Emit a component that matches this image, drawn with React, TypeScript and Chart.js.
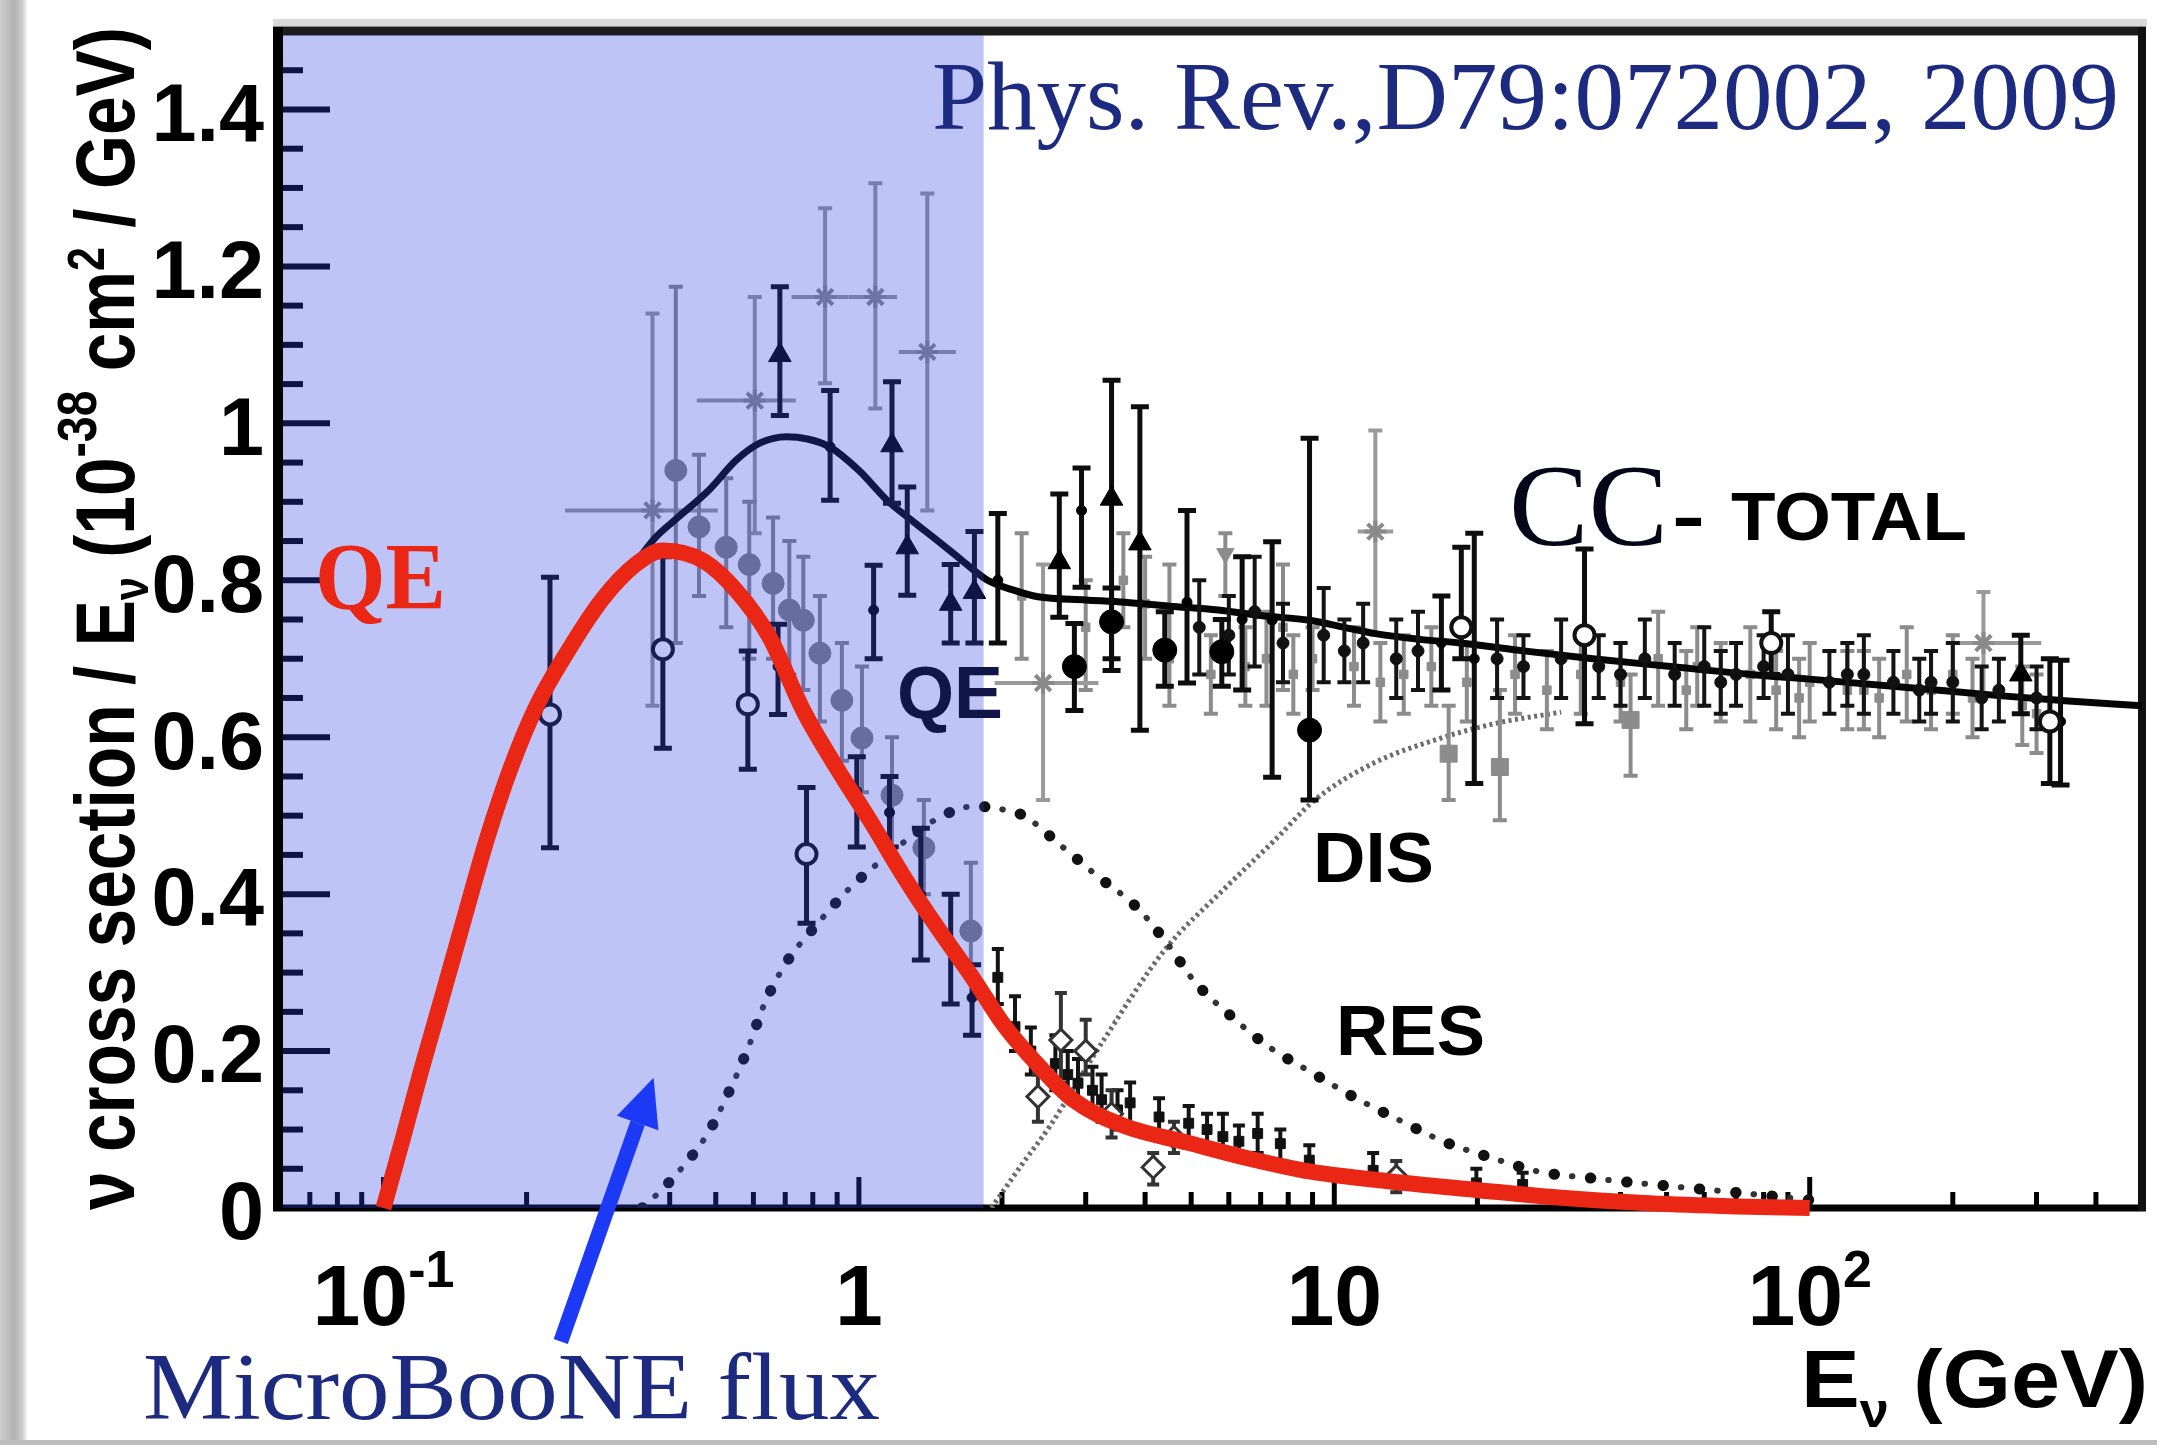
import React, { useEffect, useRef } from "react";
import { Chart, registerables } from "chart.js";
Chart.register(...registerables);

const W = 2157;
const H = 1445;

// ---------- axes ----------
const xMin = 0.06;
const xMax = 500;
const yMin = 0;
const yMax = 1.5;
const xTickValues = [0.1, 1, 10, 100];
const xTickBase = ["10", "1", "10", "10"];
const xTickExp = ["-1", "", "", "2"];
const yTickValues = [0, 0.2, 0.4, 0.6, 0.8, 1.0, 1.2, 1.4];
const yTickLabels = ["0", "0.2", "0.4", "0.6", "0.8", "1", "1.2", "1.4"];
const fluxEdgeE = 1.83; // MicroBooNE flux shaded region upper edge (GeV)

// ---------- model curves ----------
const qeCurveE = [0.1, 0.11, 0.12, 0.133, 0.148, 0.165, 0.185, 0.21, 0.245, 0.288, 0.339, 0.387, 0.47, 0.552, 0.648, 0.764, 0.9, 1.055, 1.25, 1.46, 1.75, 2.02, 2.4, 2.82, 3.6, 4.93, 6.5, 8.6, 13, 19.9, 30, 46, 70, 100];
const qeCurveV = [0, 0.09, 0.175, 0.27, 0.37, 0.47, 0.56, 0.64, 0.711, 0.775, 0.82, 0.838, 0.825, 0.787, 0.728, 0.634, 0.56, 0.494, 0.42, 0.358, 0.29, 0.233, 0.18, 0.138, 0.105, 0.083, 0.064, 0.048, 0.034, 0.023, 0.013, 0.006, 0.002, 0];

const totalCurveE = [0.1, 0.11, 0.12, 0.133, 0.148, 0.165, 0.185, 0.21, 0.245, 0.288, 0.339, 0.374, 0.418, 0.484, 0.552, 0.62, 0.705, 0.78, 0.868, 1.0, 1.146, 1.3, 1.46, 1.65, 1.865, 2.1, 2.38, 3.0, 3.63, 4.5, 5.7, 7, 8.87, 10.5, 12.2, 15, 18.4, 25, 35, 51, 75, 100, 156, 250, 350, 500];
const totalCurveV = [0, 0.09, 0.175, 0.27, 0.37, 0.47, 0.56, 0.64, 0.711, 0.775, 0.823, 0.855, 0.881, 0.915, 0.953, 0.975, 0.983, 0.98, 0.97, 0.94, 0.902, 0.875, 0.851, 0.825, 0.8, 0.788, 0.779, 0.775, 0.772, 0.767, 0.762, 0.755, 0.749, 0.74, 0.732, 0.725, 0.72, 0.71, 0.7, 0.69, 0.68, 0.674, 0.664, 0.653, 0.646, 0.64];

const resCurveE = [0.35, 0.38, 0.416, 0.481, 0.533, 0.584, 0.633, 0.704, 0.815, 0.951, 1.1, 1.3, 1.5, 1.75, 2.0, 2.22, 2.66, 3.19, 3.83, 4.48, 5.06, 6.08, 7.3, 9.0, 11.1, 13.7, 17.1, 21.4, 27.1, 34.8, 44.8, 57, 75, 100];
const resCurveV = [0, 0.02, 0.045, 0.095, 0.148, 0.203, 0.26, 0.313, 0.361, 0.406, 0.44, 0.475, 0.5, 0.512, 0.508, 0.5, 0.462, 0.422, 0.384, 0.335, 0.29, 0.244, 0.205, 0.172, 0.14, 0.112, 0.084, 0.064, 0.046, 0.038, 0.031, 0.025, 0.018, 0.01];

const disCurveE = [1.9, 2.2, 2.52, 3.24, 4.4, 5.83, 7.5, 9.1, 12.1, 16, 22, 30];
const disCurveV = [0, 0.055, 0.104, 0.21, 0.329, 0.405, 0.469, 0.52, 0.567, 0.595, 0.618, 0.632];

// ---------- data points: [E, value, errLow, errHigh, (Elow, Ehigh)] ----------
const grayCrossPts = [
  [0.368, 0.889, 0.64, 1.14, 0.241, 0.505],
  [0.604, 1.029, 0.86, 1.161, 0.456, 0.737],
  [0.849, 1.161, 1.051, 1.274, 0.722, 0.951],
  [1.083, 1.161, 1.019, 1.306, 0.951, 1.203],
  [1.393, 1.091, 0.889, 1.293, 1.213, 1.6],
  [2.44, 0.669, 0.52, 0.82, 1.93, 3.19],
  [12.2, 0.862, 0.732, 0.991, 11.2, 13.3],
  [232, 0.72, 0.654, 0.785, 203, 307],
];
const grayCirclePts = [
  [0.412, 0.94, 0.72, 1.174],
  [0.461, 0.868, 0.78, 0.96],
  [0.526, 0.842, 0.74, 0.93],
  [0.588, 0.82, 0.7, 0.9],
  [0.66, 0.796, 0.7, 0.88],
  [0.714, 0.762, 0.68, 0.85],
  [0.764, 0.749, 0.66, 0.83],
  [0.828, 0.707, 0.62, 0.78],
  [0.921, 0.647, 0.57, 0.72],
  [1.015, 0.599, 0.53, 0.69],
  [1.174, 0.526, 0.46, 0.6],
  [1.37, 0.459, 0.4, 0.52],
  [1.72, 0.353, 0.3, 0.44],
];
const graySquarePts = [
  [17.4, 0.579, 0.52, 0.64],
  [22.3, 0.562, 0.494, 0.66],
  [42, 0.622, 0.551, 0.68],
];
const grayDownTriPts = [
  [5.9, 0.834, 0.78, 0.86],
];
const graySmallPts = [
  [2.2, 0.78, 0.7, 0.86], [3.0, 0.74, 0.66, 0.8], [3.6, 0.8, 0.74, 0.86], [4.0, 0.77, 0.7, 0.83],
  [4.5, 0.7, 0.64, 0.82], [5.5, 0.68, 0.63, 0.73], [6.5, 0.69, 0.64, 0.74], [7.2, 0.7, 0.64, 0.76],
  [7.8, 0.74, 0.66, 0.82], [8.2, 0.68, 0.63, 0.73], [9, 0.7, 0.66, 0.74], [12.5, 0.67, 0.62, 0.72],
  [14, 0.68, 0.63, 0.73], [16, 0.69, 0.64, 0.74], [24, 0.68, 0.63, 0.73], [28, 0.66, 0.61, 0.71],
  [40, 0.67, 0.62, 0.72], [48, 0.7, 0.64, 0.76], [55, 0.66, 0.61, 0.71], [65, 0.67, 0.62, 0.72],
  [75, 0.68, 0.62, 0.74], [85, 0.66, 0.61, 0.71], [100, 0.67, 0.62, 0.72], [120, 0.66, 0.61, 0.71],
  [140, 0.65, 0.6, 0.7], [160, 0.68, 0.62, 0.74], [180, 0.66, 0.61, 0.71], [220, 0.65, 0.6, 0.7],
  [280, 0.64, 0.59, 0.69], [11, 0.69, 0.64, 0.74], [19, 0.67, 0.62, 0.72], [33, 0.68, 0.63, 0.73],
  [58, 0.69, 0.64, 0.74], [95, 0.65, 0.6, 0.7], [130, 0.66, 0.61, 0.71], [200, 0.68, 0.63, 0.73],
  [300, 0.63, 0.58, 0.68],
];
const openCirclePts = [
  [0.224, 0.629, 0.459, 0.804],
  [0.387, 0.712, 0.586, 0.83],
  [0.584, 0.642, 0.559, 0.71],
  [0.776, 0.451, 0.363, 0.536],
  [18.5, 0.74, 0.7, 0.842],
  [33.6, 0.73, 0.617, 0.84],
  [83, 0.72, 0.68, 0.76],
  [320, 0.62, 0.541, 0.7],
];
const openDiamondPts = [
  [2.38, 0.142, 0.11, 0.17],
  [2.66, 0.214, 0.16, 0.274],
  [3.0, 0.2, 0.17, 0.24],
  [3.4, 0.12, 0.09, 0.15],
  [4.16, 0.052, 0.03, 0.07],
  [4.6, 0.09, 0.07, 0.11],
  [13.5, 0.04, 0.02, 0.06],
];
const blackTrianglePts = [
  [0.682, 1.087, 1.01, 1.174],
  [1.174, 0.972, 0.898, 1.053],
  [1.264, 0.842, 0.781, 0.919],
  [1.56, 0.77, 0.72, 0.82],
  [1.75, 0.785, 0.72, 0.862],
  [2.64, 0.823, 0.753, 0.91],
  [3.4, 0.904, 0.685, 1.055],
  [3.9, 0.847, 0.609, 1.021],
  [278, 0.68, 0.63, 0.73],
];
const blackCirclePts = [
  [2.84, 0.69, 0.634, 0.745],
  [3.4, 0.747, 0.7, 0.79],
  [4.4, 0.711, 0.665, 0.76],
  [5.8, 0.709, 0.665, 0.75],
  [8.87, 0.609, 0.52, 0.981],
];
const blackBarPts = [
  [0.87, 0.97, 0.902, 1.042],
  [1.074, 0.762, 0.7, 0.819],
  [0.676, 0.69, 0.629, 0.744],
  [0.99, 0.531, 0.46, 0.575],
  [1.16, 0.504, 0.46, 0.55],
  [1.35, 0.399, 0.316, 0.484],
  [1.56, 0.329, 0.26, 0.4],
  [1.73, 0.268, 0.22, 0.31],
  [1.96, 0.8, 0.72, 0.885],
  [2.94, 0.889, 0.791, 0.943],
  [4.9, 0.772, 0.669, 0.889],
  [6.4, 0.75, 0.66, 0.83],
  [7.4, 0.749, 0.549, 0.849],
  [16.8, 0.72, 0.66, 0.78],
  [19.7, 0.7, 0.541, 0.86],
  [337, 0.62, 0.539, 0.698],
];
const blackSmallPts = [
  [5.2, 0.74, 0.68, 0.8], [6.0, 0.73, 0.68, 0.78], [6.8, 0.76, 0.69, 0.83], [7.8, 0.72, 0.67, 0.77],
  [9.5, 0.73, 0.67, 0.79], [10.5, 0.71, 0.67, 0.75], [11.5, 0.72, 0.67, 0.77], [13.5, 0.7, 0.65, 0.75],
  [15, 0.71, 0.66, 0.76], [22, 0.7, 0.65, 0.75], [25, 0.69, 0.65, 0.73], [30, 0.7, 0.65, 0.75],
  [36, 0.69, 0.65, 0.73], [45, 0.7, 0.65, 0.75], [52, 0.68, 0.64, 0.72], [60, 0.69, 0.64, 0.74],
  [70, 0.68, 0.64, 0.72], [90, 0.68, 0.63, 0.73], [110, 0.67, 0.63, 0.71], [130, 0.68, 0.63, 0.73],
  [150, 0.67, 0.63, 0.71], [170, 0.66, 0.62, 0.7], [200, 0.67, 0.62, 0.72], [250, 0.66, 0.62, 0.7],
  [40, 0.68, 0.64, 0.72], [65, 0.67, 0.63, 0.71], [80, 0.69, 0.65, 0.73], [120, 0.68, 0.64, 0.72],
  [180, 0.67, 0.63, 0.71], [230, 0.65, 0.61, 0.69], [300, 0.65, 0.61, 0.69],
];
const qeSmallPts = [
  [1.96, 0.294, 0.26, 0.33], [2.13, 0.231, 0.2, 0.27], [2.59, 0.184, 0.15, 0.22], [2.89, 0.159, 0.13, 0.19],
  [3.24, 0.138, 0.11, 0.17], [3.72, 0.134, 0.1, 0.16], [4.28, 0.116, 0.09, 0.14], [4.94, 0.108, 0.08, 0.13],
  [5.83, 0.091, 0.07, 0.12], [6.9, 0.095, 0.07, 0.12], [7.7, 0.082, 0.06, 0.1], [8.86, 0.061, 0.04, 0.08],
  [12.07, 0.048, 0.03, 0.07], [19.9, 0.032, 0.02, 0.05], [24.9, 0.03, 0.02, 0.045],
  [2.3, 0.2, 0.17, 0.23], [2.75, 0.17, 0.14, 0.2], [3.1, 0.15, 0.12, 0.18], [3.5, 0.125, 0.1, 0.15],
  [5.4, 0.1, 0.08, 0.12], [6.3, 0.085, 0.065, 0.105],
];

// ---------- styling ----------
const SANS = '"Liberation Sans", Arial, Helvetica, sans-serif';
const SERIF = '"Liberation Serif", "Times New Roman", serif';
const NAVY = "rgb(28,42,128)";
const RED = "rgb(234,38,20)";
const OVERLAY = "rgba(49,65,229,0.31)";

const curve = (E: number[], V: number[]) => E.map((e, i) => ({ x: e, y: V[i] }));
const pts = (arr: number[][]) => arr.map((p) => ({ x: p[0], y: p[1] }));
const errs = (arr: number[][]) => arr.map((p) => p.slice(2));

function fitText(ctx: any, text: string, x: number, y: number, font: string, width: number, color: string, align = "left") {
  ctx.save();
  ctx.font = font;
  ctx.fillStyle = color;
  ctx.textAlign = "left";
  ctx.textBaseline = "alphabetic";
  const w = ctx.measureText(text).width;
  const s = width / w;
  const x0 = align === "right" ? x - width : align === "center" ? x - width / 2 : x;
  ctx.translate(x0, y);
  ctx.scale(s, 1);
  ctx.fillText(text, 0, 0);
  ctx.restore();
}

function drawSegs(ctx: any, segs: any[], x: number, y: number, width: number | null, color: string, align = "left") {
  ctx.save();
  ctx.fillStyle = color;
  ctx.textAlign = "left";
  ctx.textBaseline = "alphabetic";
  let total = 0;
  const ws = segs.map((s) => {
    ctx.font = `bold ${s.size}px ${SANS}`;
    const w = ctx.measureText(s.t).width;
    total += w;
    return w;
  });
  const sc = width ? width / total : 1;
  const tw = total * sc;
  const x0 = align === "right" ? x - tw : align === "center" ? x - tw / 2 : x;
  ctx.translate(x0, y);
  ctx.scale(sc, 1);
  let cx = 0;
  segs.forEach((s, i) => {
    ctx.font = `bold ${s.size}px ${SANS}`;
    ctx.fillText(s.t, cx, s.dy || 0);
    cx += ws[i];
  });
  ctx.restore();
}

const rootPlugin = {
  id: "rootStyle",
  beforeDraw(chart: any) {
    const ctx = chart.ctx;
    const a = chart.chartArea;
    ctx.save();
    ctx.fillStyle = "#ffffff";
    ctx.fillRect(0, 0, W, H);
    const g = ctx.createLinearGradient(0, 0, 28, 0);
    g.addColorStop(0, "#cfcfcf");
    g.addColorStop(0.5, "#b2b2b2");
    g.addColorStop(0.8, "#cdcdcd");
    g.addColorStop(1, "#ffffff");
    ctx.fillStyle = g;
    ctx.fillRect(0, 0, 28, H);
    ctx.fillStyle = "#bdbdbd";
    ctx.fillRect(0, H - 5, W, 5);
    ctx.fillStyle = "#d9d9d9";
    ctx.fillRect(a.left - 5, a.top - 12, a.right - a.left + 10, 7);
    ctx.restore();
  },
  beforeDatasetsDraw(chart: any) {
    const ctx = chart.ctx;
    const a = chart.chartArea;
    const xs = chart.scales.x;
    const ys = chart.scales.y;
    ctx.save();
    ctx.strokeStyle = "#000";
    // y ticks (inside)
    ctx.lineWidth = 6;
    for (let k = 0; k <= 30; k++) {
      const v = k * 0.05;
      const py = ys.getPixelForValue(v);
      const len = k % 4 === 0 ? 52 : 25;
      ctx.beginPath();
      ctx.moveTo(a.left, py);
      ctx.lineTo(a.left + len, py);
      ctx.stroke();
    }
    // x ticks (inside)
    ctx.lineWidth = 5;
    [0.01, 0.1, 1, 10, 100].forEach((d) => {
      for (let k = 1; k <= 9; k++) {
        const v = d * k;
        if (v < xMin || v > xMax) continue;
        const px = xs.getPixelForValue(v);
        const len = k === 1 ? 31 : 16;
        ctx.beginPath();
        ctx.moveTo(px, a.bottom);
        ctx.lineTo(px, a.bottom - len);
        ctx.stroke();
      }
    });
    // frame
    ctx.strokeStyle = "#1c1c1c";
    ctx.lineWidth = 9;
    ctx.beginPath(); ctx.moveTo(a.left - 5, a.top); ctx.lineTo(a.right + 4, a.top); ctx.stroke();
    ctx.strokeStyle = "#000";
    ctx.lineWidth = 7;
    ctx.beginPath(); ctx.moveTo(a.left - 5, a.bottom); ctx.lineTo(a.right + 4, a.bottom); ctx.stroke();
    ctx.lineWidth = 10;
    ctx.beginPath(); ctx.moveTo(a.left, a.top - 4); ctx.lineTo(a.left, a.bottom + 3); ctx.stroke();
    ctx.lineWidth = 8;
    ctx.strokeStyle = "#111";
    ctx.beginPath(); ctx.moveTo(a.right, a.top - 4); ctx.lineTo(a.right, a.bottom + 3); ctx.stroke();
    ctx.restore();
  },
  beforeDatasetDraw(chart: any, args: any) {
    const ds = chart.data.datasets[args.index];
    const ctx = chart.ctx;
    const xs = chart.scales.x;
    const ys = chart.scales.y;
    const a = chart.chartArea;
    if (ds.overlayBefore) {
      ctx.save();
      ctx.fillStyle = OVERLAY;
      const xe = xs.getPixelForValue(fluxEdgeE);
      ctx.fillRect(a.left + 5, a.top + 4, xe - a.left - 5, a.bottom - a.top - 4);
      ctx.restore();
    }
    if (ds.errs) {
      ctx.save();
      ctx.strokeStyle = ds.errColor;
      ctx.lineWidth = ds.errWidth;
      const cap = ds.capW;
      ds.errs.forEach((e: number[], i: number) => {
        const p = ds.data[i];
        const px = xs.getPixelForValue(p.x);
        const py = ys.getPixelForValue(p.y);
        const lo = ys.getPixelForValue(e[0]);
        const hi = ys.getPixelForValue(e[1]);
        ctx.beginPath();
        ctx.moveTo(px, lo); ctx.lineTo(px, hi);
        ctx.moveTo(px - cap / 2, lo); ctx.lineTo(px + cap / 2, lo);
        ctx.moveTo(px - cap / 2, hi); ctx.lineTo(px + cap / 2, hi);
        if (e.length > 2) {
          ctx.moveTo(xs.getPixelForValue(e[2]), py);
          ctx.lineTo(xs.getPixelForValue(e[3]), py);
        }
        ctx.stroke();
      });
      ctx.restore();
    }
  },
  afterDraw(chart: any) {
    const ctx = chart.ctx;
    const xs = chart.scales.x;
    const ys = chart.scales.y;
    // x tick labels with exponents
    xTickValues.forEach((v, i) => {
      const segs: any[] = [{ t: xTickBase[i], size: 86 }];
      if (xTickExp[i]) segs.push({ t: xTickExp[i], size: 52, dy: -38 });
      drawSegs(ctx, segs, xs.getPixelForValue(v), 1325, null, "#000", "center");
    });
    // x title
    drawSegs(ctx, [
      { t: "E", size: 81 },
      { t: "\u03bd", size: 48, dy: 20 },
      { t: " (GeV)", size: 81 },
    ], 2148, 1407, 347, "#000", "right");
    // y title (rotated)
    ctx.save();
    ctx.translate(134, 1210);
    ctx.rotate(-Math.PI / 2);
    drawSegs(ctx, [
      { t: "\u03bd cross section / E", size: 84 },
      { t: "\u03bd", size: 50, dy: 14 },
      { t: " (10", size: 84 },
      { t: "-38", size: 56, dy: -38 },
      { t: " cm", size: 84 },
      { t: "2", size: 52, dy: -30 },
      { t: " / GeV)", size: 84 },
    ], 0, 0, 1183, "#000", "left");
    ctx.restore();
    // in-plot labels
    fitText(ctx, "QE", 315, 609, `bold 95px ${SERIF}`, 131, RED);
    fitText(ctx, "QE", 897, 718, `bold 75px ${SANS}`, 106, "rgb(16,22,72)");
    fitText(ctx, "DIS", 1313, 882, `bold 71px ${SANS}`, 121, "#000");
    fitText(ctx, "RES", 1336, 1055, `bold 71px ${SANS}`, 149, "#000");
    fitText(ctx, "CC", 1509, 545, `116px ${SERIF}`, 159, "#06061a");
    fitText(ctx, "-", 1672, 540, `bold 69px ${SANS}`, 33, "#000");
    fitText(ctx, "TOTAL", 1731, 540, `bold 69px ${SANS}`, 236, "#000");
    fitText(ctx, "Phys. Rev.,D79:072002, 2009", 2119, 129, `97px ${SERIF}`, 1187, NAVY, "right");
    fitText(ctx, "MicroBooNE flux", 143, 1419, `95px ${SERIF}`, 737, NAVY);
    // arrow to the flux region
    const tipX = xs.getPixelForValue(0.37);
    const tipY = ys.getPixelForValue(0.166);
    const tailX = xs.getPixelForValue(0.236);
    const tailY = ys.getPixelForValue(-0.17);
    const ang = Math.atan2(tipY - tailY, tipX - tailX);
    const headL = 48;
    const headW = 44;
    const bx = tipX - headL * Math.cos(ang);
    const by = tipY - headL * Math.sin(ang);
    ctx.save();
    ctx.strokeStyle = "rgb(28,58,245)";
    ctx.fillStyle = "rgb(28,58,245)";
    ctx.lineWidth = 15;
    ctx.beginPath(); ctx.moveTo(tailX, tailY); ctx.lineTo(bx, by); ctx.stroke();
    ctx.beginPath();
    ctx.moveTo(tipX, tipY);
    ctx.lineTo(bx + (headW / 2) * Math.sin(ang), by - (headW / 2) * Math.cos(ang));
    ctx.lineTo(bx - (headW / 2) * Math.sin(ang), by + (headW / 2) * Math.cos(ang));
    ctx.closePath();
    ctx.fill();
    ctx.restore();
  },
};

function buildDatasets() {
  const list: any[] = [
    { data: curve(disCurveE, disCurveV), showLine: true, pointRadius: 0, borderColor: "#6c6c6c", borderWidth: 5, borderDash: [3, 3.5], cubicInterpolationMode: "monotone" },
    { data: curve(resCurveE, resCurveV), showLine: true, pointRadius: 0, borderColor: "#111", borderWidth: 11, borderDash: [0.5, 36], borderCapStyle: "round", cubicInterpolationMode: "monotone" },
    { data: curve(resCurveE, resCurveV), showLine: true, pointRadius: 0, borderColor: "#333", borderWidth: 6, borderDash: [0.5, 36], borderDashOffset: -18, borderCapStyle: "round", cubicInterpolationMode: "monotone" },
    { data: pts(graySmallPts), errs: errs(graySmallPts), errColor: "#8c8c8c", errWidth: 4, capW: 14, pointStyle: "rect", pointRadius: 6, pointBackgroundColor: "#8c8c8c", pointBorderColor: "#8c8c8c", showLine: false },
    { data: pts(grayCrossPts), errs: errs(grayCrossPts), errColor: "#9a9a9a", errWidth: 4, capW: 14, pointStyle: "star", pointRadius: 11, pointBorderWidth: 4, pointBorderColor: "#8a8a8a", pointBackgroundColor: "#8a8a8a", showLine: false },
    { data: pts(grayCirclePts), errs: errs(grayCirclePts), errColor: "#8a8a8a", errWidth: 4, capW: 14, pointStyle: "circle", pointRadius: 11, pointBackgroundColor: "#828282", pointBorderColor: "#828282", showLine: false },
    { data: pts(graySquarePts), errs: errs(graySquarePts), errColor: "#8c8c8c", errWidth: 4, capW: 14, pointStyle: "rect", pointRadius: 12, pointBackgroundColor: "#8c8c8c", pointBorderColor: "#8c8c8c", showLine: false },
    { data: pts(grayDownTriPts), errs: errs(grayDownTriPts), errColor: "#8c8c8c", errWidth: 4, capW: 14, pointStyle: "triangle", pointRotation: 180, pointRadius: 10, pointBackgroundColor: "#8c8c8c", pointBorderColor: "#8c8c8c", showLine: false },
    { data: curve(totalCurveE, totalCurveV), showLine: true, pointRadius: 0, borderColor: "#050505", borderWidth: 7, cubicInterpolationMode: "monotone" },
    { data: pts(blackSmallPts), errs: errs(blackSmallPts), errColor: "#141414", errWidth: 4, capW: 14, pointStyle: "circle", pointRadius: 6, pointBackgroundColor: "#111", pointBorderColor: "#111", showLine: false },
    { data: pts(qeSmallPts), errs: errs(qeSmallPts), errColor: "#141414", errWidth: 4, capW: 12, pointStyle: "rect", pointRadius: 7, pointBackgroundColor: "#111", pointBorderColor: "#111", showLine: false },
    { data: pts(openDiamondPts), errs: errs(openDiamondPts), errColor: "#333", errWidth: 4, capW: 12, pointStyle: "rectRot", pointRadius: 11, pointBorderWidth: 3, pointBackgroundColor: "#fff", pointBorderColor: "#333", showLine: false },
    { data: pts(blackBarPts), errs: errs(blackBarPts), errColor: "#0d0d0d", errWidth: 5, capW: 18, pointStyle: "circle", pointRadius: 5, pointBackgroundColor: "#000", pointBorderColor: "#000", showLine: false },
    { data: pts(openCirclePts), errs: errs(openCirclePts), errColor: "#0d0d0d", errWidth: 5, capW: 18, pointStyle: "circle", pointRadius: 10, pointBorderWidth: 4, pointBackgroundColor: "#fff", pointBorderColor: "#111", showLine: false },
    { data: pts(blackTrianglePts), errs: errs(blackTrianglePts), errColor: "#0d0d0d", errWidth: 5, capW: 18, pointStyle: "triangle", pointRadius: 13, pointBackgroundColor: "#000", pointBorderColor: "#000", showLine: false },
    { data: pts(blackCirclePts), errs: errs(blackCirclePts), errColor: "#0d0d0d", errWidth: 5, capW: 18, pointStyle: "circle", pointRadius: 12, pointBackgroundColor: "#000", pointBorderColor: "#000", showLine: false },
    { data: curve(qeCurveE, qeCurveV), overlayBefore: true, clip: false, showLine: true, pointRadius: 0, borderColor: RED, borderWidth: 16, borderCapStyle: "butt", cubicInterpolationMode: "monotone" },
  ];
  const n = list.length;
  return list.map((d, i) => ({ ...d, order: n - i }));
}

export default function App() {
  const ref = useRef<HTMLCanvasElement>(null);
  useEffect(() => {
    const chart = new Chart(ref.current as HTMLCanvasElement, {
      type: "scatter",
      data: { datasets: buildDatasets() as any },
      options: {
        animation: false,
        responsive: false,
        devicePixelRatio: 1,
        events: [],
        layout: { padding: { top: 31, right: 11, left: 0, bottom: 0 } },
        plugins: { legend: { display: false }, tooltip: { enabled: false } },
        scales: {
          x: {
            type: "logarithmic",
            min: xMin,
            max: xMax,
            grid: { display: false, drawTicks: false },
            border: { display: false },
            ticks: { display: false },
            afterBuildTicks: (s: any) => { s.ticks = xTickValues.map((v) => ({ value: v })); },
            afterFit: (s: any) => { s.height = 237; s.paddingLeft = 0; s.paddingRight = 0; },
          },
          y: {
            min: yMin,
            max: yMax,
            grid: { display: false, drawTicks: false },
            border: { display: false },
            ticks: {
              autoSkip: false,
              padding: 14,
              labelOffset: 9,
              color: "#000",
              font: { family: SANS, size: 81, weight: "bold", lineHeight: 0.3 },
              callback: (_v: any, i: number) => yTickLabels[i],
            },
            afterBuildTicks: (s: any) => { s.ticks = yTickValues.map((v) => ({ value: v })); },
            afterFit: (s: any) => { s.width = 278; s.paddingTop = 0; s.paddingBottom = 0; },
          },
        },
      } as any,
      plugins: [rootPlugin],
    });
    return () => chart.destroy();
  }, []);
  return (
    <div style={{ position: "fixed", left: 0, top: 0, width: W, height: H, background: "#fff" }}>
      <canvas ref={ref} width={W} height={H} style={{ width: W, height: H, display: "block" }} />
    </div>
  );
}
